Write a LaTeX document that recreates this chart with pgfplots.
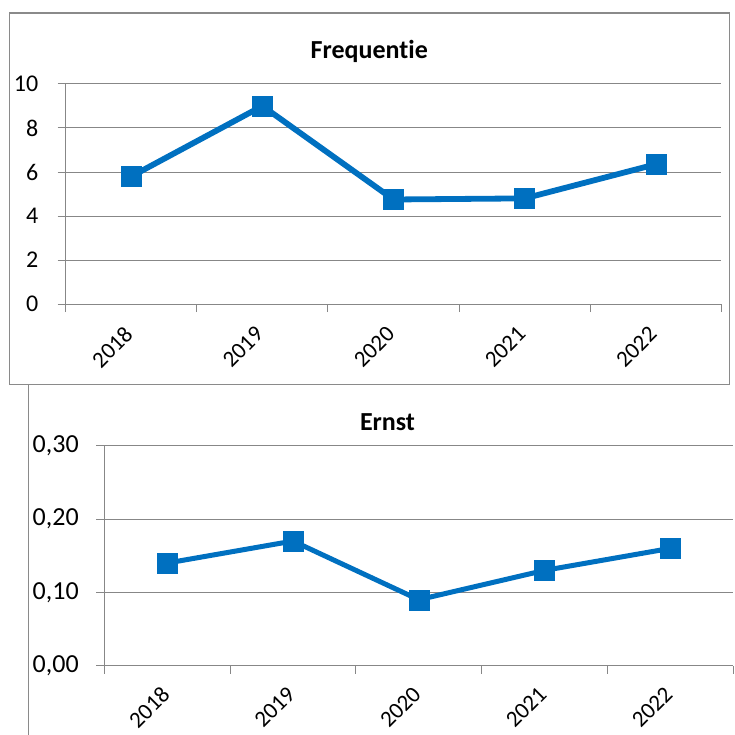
\documentclass[border=0pt]{standalone}
\usepackage{fontspec}
\setmainfont{Carlito}[Ligatures=CommonOff]
\usepackage{pgfplots}
\pgfplotsset{compat=1.18}

\definecolor{xlblue}{HTML}{0070C0}
\definecolor{gridc}{HTML}{878787}
\definecolor{framec}{HTML}{8A8A8A}

\pgfplotsset{
  excel/.style={
    scale only axis,
    /pgf/number format/assume math mode=true,
    xmin=0.5, xmax=5.5,
    xtick={0.5,1.5,2.5,3.5,4.5,5.5},
    x tick label as interval,
    xticklabels={2018,2019,2020,2021,2022},
    axis x line*=bottom, axis y line*=left,
    axis line style={draw=gridc, line width=1pt, -},
    tick align=outside,
    major tick length=8pt,
    tick style={draw=gridc, line width=1pt},
    ymajorgrids,
    grid style={draw=gridc, line width=1pt},
    xticklabel style={rotate=45, anchor=north east, font=\fontsize{23}{27}\selectfont},
    yticklabel style={anchor=east},
    clip=false,
  },
  excelline/.style={
    color=xlblue, mark=square*, mark size=10pt,
    mark options={line width=0.4pt, fill=xlblue, draw=xlblue},
  },
}

\begin{document}
\begin{tikzpicture}[x=1pt,y=1pt]
\useasboundingbox (0,0) rectangle (734,-735);
\draw[framec, line width=1.3pt] (9.5,-13) rectangle (729.7,-384.7);
\draw[framec, line width=1.3pt] (28.3,-384.7) -- (28.3,-736);

% Frequentie
\begin{axis}[excel,
  at={(65.7pt,-304pt)}, anchor=south west,
  width=655.6pt, height=220pt,
  ymin=0, ymax=10, ytick={0,2,4,6,8,10},
  yticklabel style={font=\fontsize{24}{28}\selectfont, xshift=-16pt},
  xticklabel style={xshift=-11.6pt, yshift=0.1pt},
]
\addplot[excelline, line width=5.8pt] coordinates {
  (1,5.8) (2,9.0) (3,4.75) (4,4.8) (5,6.35)
};
\end{axis}
\node[anchor=base, font=\fontsize{26}{30}\selectfont\bfseries] at (369.3,-58.3) {Frequentie};

% Ernst
\begin{axis}[excel,
  at={(104.3pt,-665.7pt)}, anchor=south west,
  width=629pt, height=220pt,
  ymin=0, ymax=0.3, ytick={0,0.1,0.2,0.3},
  yticklabels={{0,00},{0,10},{0,20},{0,30}},
  yticklabel style={font=\fontsize{26}{30}\selectfont, xshift=-14pt},
  xticklabel style={xshift=-9.7pt, yshift=0.5pt},
]
\addplot[excelline, line width=5pt] coordinates {
  (1,0.14) (2,0.17) (3,0.09) (4,0.13) (5,0.16)
};
\end{axis}
\node[anchor=base, font=\fontsize{26}{30}\selectfont\bfseries] at (387.5,-430.7) {Ernst};
\end{tikzpicture}
\end{document}
